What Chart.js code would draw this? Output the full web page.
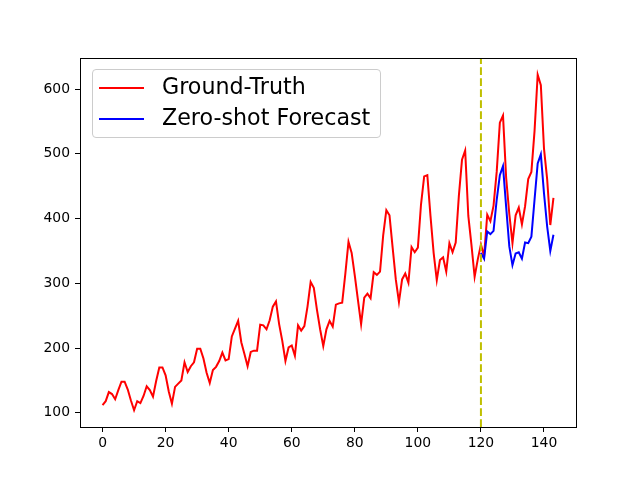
<!DOCTYPE html>
<html lang="en">
<head>
  <meta charset="UTF-8">
  <title>Zero-shot Forecast</title>
  <style>
    body {
      margin: 0;
      padding: 0;
      background: #fff;
    }
    .wrap {
      position: relative;
      width: 640px;
      height: 480px;
    }
    .legend {
      position: absolute;
      left: 92px;
      top: 69px;
      width: 287px;
      height: 67px;
      border: 1px solid #cccccc;
      border-radius: 4px;
      background: rgba(255, 255, 255, 0.8);
      font-family: "DejaVu Sans", sans-serif;
      font-size: 22.2px;
      color: #000;
    }
    .legend .row {
      position: absolute;
      left: 6px;
      height: 26px;
      line-height: 26px;
      white-space: nowrap;
    }
    .legend .swatch {
      display: inline-block;
      width: 45px;
      height: 2px;
      vertical-align: middle;
      margin-right: 18px;
    }
  </style>
  <script src="https://cdn.jsdelivr.net/npm/chart.js"></script>
</head>
<body>
  <div class="wrap">
    <canvas id="chart" width="640" height="480"></canvas>
    <div class="legend">
      <div class="row" style="top:3px"><span class="swatch" style="background:#ff0000"></span>Ground-Truth</div>
      <div class="row" style="top:34px"><span class="swatch" style="background:#0000ff"></span>Zero-shot Forecast</div>
    </div>
  </div>

  <script>
    // monthly totals, index 0..143
    const groundTruth = [
      112, 118, 132, 129, 121, 135, 148, 148, 136, 119, 104, 118,
      115, 126, 141, 135, 125, 149, 170, 170, 158, 133, 114, 140,
      145, 150, 178, 163, 172, 178, 199, 199, 184, 162, 146, 166,
      171, 180, 193, 181, 183, 218, 230, 242, 209, 191, 172, 194,
      196, 196, 236, 235, 229, 243, 264, 272, 237, 211, 180, 201,
      204, 188, 235, 227, 234, 264, 302, 293, 259, 229, 203, 229,
      242, 233, 267, 269, 270, 315, 364, 347, 312, 274, 237, 278,
      284, 277, 317, 313, 318, 374, 413, 405, 355, 306, 271, 306,
      315, 301, 356, 348, 355, 422, 465, 467, 404, 347, 305, 336,
      340, 318, 362, 348, 363, 435, 491, 505, 404, 359, 310, 337,
      360, 342, 406, 396, 420, 472, 548, 559, 463, 407, 362, 405,
      417, 391, 419, 461, 472, 535, 622, 606, 508, 461, 390, 432
    ];
    const forecastStart = 120;
    const forecast = [
      347, 338, 380, 376, 381, 429, 467, 481, 418, 357, 328, 346,
      348, 338, 363, 362, 372, 429, 485, 499, 439, 388, 350, 375
    ];
    const xTicks = [0, 20, 40, 60, 80, 100, 120, 140];
    const yTicks = [100, 200, 300, 400, 500, 600];

    const truthPoints = groundTruth.map((v, i) => ({ x: i, y: v }));
    const forecastPoints = forecast.map((v, i) => ({ x: forecastStart + i, y: v }));

    const xMin = -0.05 * (groundTruth.length - 1);
    const xMax = (groundTruth.length - 1) * 1.05;
    const lo = Math.min(...groundTruth, ...forecast);
    const hi = Math.max(...groundTruth, ...forecast);
    const yMin = lo - 0.05 * (hi - lo);
    const yMax = hi + 0.05 * (hi - lo);

    const tickFont = { family: 'DejaVu Sans', size: 13.9 };

    const framePlugin = {
      id: 'frame',
      afterDatasetsDraw(chart) {
        const ctx = chart.ctx;
        const a = chart.chartArea;
        const xs = chart.scales.x.getPixelForValue(forecastStart);
        ctx.save();
        ctx.strokeStyle = '#bfbf00';
        ctx.lineWidth = 2;
        ctx.setLineDash([7.7, 3.3]);
        ctx.beginPath();
        ctx.moveTo(xs, a.bottom);
        ctx.lineTo(xs, a.top);
        ctx.stroke();
        ctx.restore();
      },
      afterDraw(chart) {
        const ctx = chart.ctx;
        const a = chart.chartArea;
        ctx.save();
        ctx.strokeStyle = '#000';
        ctx.lineWidth = 1;
        ctx.strokeRect(a.left + 0.5, a.top + 0.5, a.right - a.left, a.bottom - a.top);
        ctx.restore();
      }
    };

    new Chart(document.getElementById('chart').getContext('2d'), {
      type: 'line',
      data: {
        datasets: [
          {
            label: 'Ground-Truth',
            data: truthPoints,
            borderColor: '#ff0000',
            borderWidth: 2,
            pointRadius: 0,
            tension: 0,
            fill: false,
            order: 2
          },
          {
            label: 'Zero-shot Forecast',
            data: forecastPoints,
            borderColor: '#0000ff',
            borderWidth: 2,
            pointRadius: 0,
            tension: 0,
            fill: false,
            order: 1
          }
        ]
      },
      options: {
        responsive: false,
        animation: false,
        devicePixelRatio: 1,
        layout: { padding: { left: 0, top: 58, right: 64, bottom: 0 } },
        plugins: {
          legend: { display: false },
          tooltip: { enabled: false }
        },
        scales: {
          x: {
            type: 'linear',
            min: xMin,
            max: xMax,
            afterBuildTicks(scale) {
              scale.ticks = xTicks.map(v => ({ value: v }));
            },
            afterFit(scale) {
              scale.height = 53;
            },
            grid: {
              drawOnChartArea: false,
              drawTicks: true,
              tickLength: 5,
              color: '#000'
            },
            border: { display: false },
            ticks: {
              font: tickFont,
              color: '#000',
              padding: 3,
              maxRotation: 0
            }
          },
          y: {
            type: 'linear',
            min: yMin,
            max: yMax,
            afterBuildTicks(scale) {
              scale.ticks = yTicks.map(v => ({ value: v }));
            },
            afterFit(scale) {
              scale.width = 80;
            },
            grid: {
              drawOnChartArea: false,
              drawTicks: true,
              tickLength: 5,
              color: '#000'
            },
            border: { display: false },
            ticks: {
              font: tickFont,
              color: '#000',
              padding: 5
            }
          }
        }
      },
      plugins: [framePlugin]
    });
  </script>
</body>
</html>
